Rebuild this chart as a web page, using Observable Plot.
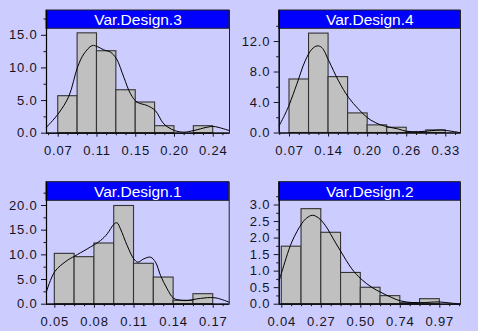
<!DOCTYPE html>
<html><head><meta charset="utf-8">
<script src="https://cdn.jsdelivr.net/npm/d3@7"></script>
<script src="https://cdn.jsdelivr.net/npm/@observablehq/plot@0.6"></script>
<style>
html,body{margin:0;padding:0;background:#ccccff;}
#chart{position:relative;width:478px;height:331px;background:#ccccff;overflow:hidden;font-family:"Liberation Sans",Arial,sans-serif;}
#chart > div{position:absolute;}
#chart svg{display:block;overflow:visible;}
g[aria-label="y-axis tick label"] text, g[aria-label="x-axis tick label"] text{letter-spacing:0.8px;}
</style></head><body><div id="chart"></div>
<script>
// ---- data ----
const titles = ["Var.Design.3", "Var.Design.4", "Var.Design.1", "Var.Design.2"];
// first bin edge and bin width of each histogram
const binStart = [0.068, 0.074, 0.05, 0.038];
const binWidth = [0.0213, 0.0315, 0.015, 0.1165];
// bar heights (density)
const dens3 = [5.67, 15.3, 12.56, 6.58, 4.7, 1.07, 0, 1.07];
const dens4 = [7.02, 13.04, 7.33, 2.57, 1.0, 0.69, 0.05, 0.34];
const dens1 = [10.2, 9.53, 12.3, 19.9, 8.19, 5.4, 0.69, 2.03];
const dens2 = [1.74, 2.875, 2.16, 0.945, 0.497, 0.244, 0.03, 0.152];
// density curves
const curve3x = [0.0551,0.068,0.0797,0.0892,0.0962,0.1053,0.1108,0.1181,0.1255,0.1321,0.1401,0.1475,0.1548,0.1658,0.1746,0.1841,0.1958,0.2061,0.2171,0.2317,0.2391,0.2559];
const curve3y = [0.92,2.97,5.67,10.11,12.15,13.43,13.28,12.77,12.41,11.39,8.58,6.03,4.75,4.24,3.48,1.43,0.41,0.16,0.41,0.92,1.03,0.41];
const curve4x = [0.0574,0.067,0.074,0.0858,0.0993,0.11,0.1186,0.1261,0.1374,0.153,0.1691,0.1852,0.2003,0.2175,0.2315,0.2497,0.2632,0.282,0.3035,0.3196,0.3357,0.3497];
const curve4y = [0.96,2.49,3.8,6.41,9.47,10.99,11.43,11.21,9.47,6.85,4.67,3.14,1.96,1.18,0.83,0.52,0.22,0.17,0.31,0.39,0.22,0.04];
const curve1x = [0.0437,0.05,0.0593,0.0649,0.0745,0.0846,0.0897,0.095,0.0972,0.0997,0.1048,0.1098,0.1129,0.1174,0.1225,0.1263,0.1301,0.1351,0.1399,0.1452,0.1503,0.1578,0.1679,0.173,0.1821];
const curve1y = [2.57,6.62,8.85,9.73,11.2,12.9,14.26,16.28,16.49,15.27,11.89,9.19,8.51,9.19,9.53,8.51,5.81,3.11,1.22,0.81,0.74,1.08,1.35,1.22,0.41];
const curve2x = [0.0223,0.038,0.097,0.156,0.1855,0.219,0.2543,0.2937,0.3527,0.388,0.451,0.506,0.569,0.622,0.687,0.738,0.805,0.884,0.962,1.041,1.092];
const curve2y = [0.71,0.97,1.88,2.44,2.61,2.69,2.61,2.39,1.88,1.58,1.07,0.76,0.51,0.36,0.2,0.1,0.05,0.05,0.07,0.03,0.01];
// axis extents and tick steps
const xMin = [0.0551, 0.0574, 0.0437, 0.0227];
const xMax = [0.2563, 0.3497, 0.1821, 1.092];
const yTop = [18.8, 16.07, 24.72, 3.69];
const stripBottom = [16.0, 13.67, 20.95, 3.13];
const yStep = [5, 4, 5, 0.5];
const yMinorMax = [17.5, 14, 22.5, 3.25];

// ---- layout ----
const layout = [
  {left: 0, top: 0, width: 239, height: 165, mL: 46, mR: 10, mT: 10, mB: 32.3},
  {left: 239, top: 0, width: 239, height: 165, mL: 39.7, mR: 18, mT: 10, mB: 32.5},
  {left: 0, top: 165, width: 239, height: 166, mL: 46, mR: 10.3, mT: 16.7, mB: 27.3},
  {left: 239, top: 165, width: 239, height: 166, mL: 39.7, mR: 18, mT: 16.7, mB: 27.3}
];
const densities = [dens3, dens4, dens1, dens2];
const curvesX = [curve3x, curve4x, curve1x, curve2x];
const curvesY = [curve3y, curve4y, curve1y, curve2y];

const root = document.getElementById("chart");
for (let i = 0; i < 4; i++) {
  const L = layout[i];
  const bins = densities[i].map((d, k) => ({x1: binStart[i] + k * binWidth[i], x2: binStart[i] + (k + 1) * binWidth[i], y: d}));
  const curve = curvesX[i].map((x, k) => ({x, y: curvesY[i][k]}));
  const half = d3.range(-4, 20).map(k => binStart[i] + k * binWidth[i] / 2).filter(v => v >= xMin[i] - 1e-9 && v <= xMax[i] + 1e-9);
  const majorX = d3.range(0, 5).map(k => binStart[i] + 2 * k * binWidth[i]);
  const minorX = half.filter(v => !majorX.some(m => Math.abs(m - v) < 1e-9));
  const majorY = d3.range(0, Math.floor(stripBottom[i] / yStep[i] + 1e-9) + 1).map(k => k * yStep[i]);
  const minorY = d3.range(0, Math.round(yMinorMax[i] / (yStep[i] / 2)) + 1).map(k => k * yStep[i] / 2).filter(v => !majorY.some(m => Math.abs(m - v) < 1e-9));
  const xmid = (xMin[i] + xMax[i]) / 2;
  const svg = Plot.plot({
    width: L.width, height: L.height,
    marginLeft: L.mL, marginRight: L.mR, marginTop: L.mT, marginBottom: L.mB,
    x: {domain: [xMin[i], xMax[i]]},
    y: {domain: [0, yTop[i]]},
    style: {background: "transparent", color: "#14141f", fontFamily: "Liberation Sans, Arial, sans-serif", fontSize: "13px"},
    marks: [
      Plot.rect(bins, {x1: "x1", x2: "x2", y1: 0, y2: "y", fill: "#c0c0c0", stroke: "#333", strokeWidth: 1.1}),
      Plot.line(curve, {x: "x", y: "y", stroke: "#000", strokeWidth: 1, curve: "catmull-rom"}),
      Plot.frame({stroke: "#222", strokeWidth: 1}),
      Plot.rect([titles[i]], {x1: xMin[i], x2: xMax[i], y1: stripBottom[i], y2: yTop[i], fill: "#0000ff", stroke: "#222", strokeWidth: 1}),
      Plot.text([titles[i]], {x: xmid, y: (stripBottom[i] + yTop[i]) / 2, text: d => d, fill: "white", fontSize: 15.5, dy: 0.5}),
      Plot.ruleY([0], {stroke: "#000", strokeWidth: 1.2}),
      Plot.ruleX([xMin[i]], {y1: 0, y2: yTop[i], stroke: "#000", strokeWidth: 1.2}),
      Plot.axisY(majorY, {tickSize: 5, tickPadding: 4, tickFormat: d3.format(".1f"), label: null, fontSize: 13}),
      Plot.axisY(minorY, {tickSize: 2.5, tickFormat: () => "", label: null}),
      Plot.axisX(majorX, {tickSize: 4, tickPadding: 9, tickFormat: d3.format(".2f"), label: null, fontSize: 13}),
      Plot.axisX(minorX, {tickSize: 2.5, tickFormat: () => "", label: null})
    ]
  });
  const holder = document.createElement("div");
  holder.style.left = L.left + "px";
  holder.style.top = L.top + "px";
  holder.appendChild(svg);
  root.appendChild(holder);
}
</script></body></html>
